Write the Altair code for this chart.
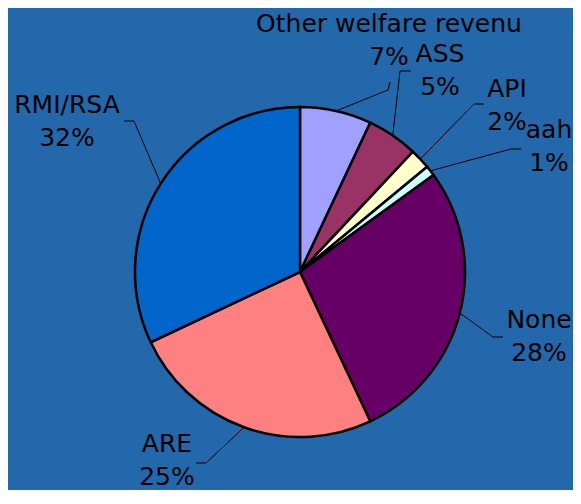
import math
import altair as alt
import pandas as pd

# ---- data ----
labels = ["Other welfare revenu", "ASS", "API", "aah", "None", "ARE", "RMI/RSA"]
values = [7, 5, 2, 1, 28, 25, 32]
colors = ["#A0A0FF", "#993366", "#FFFFCC", "#CCFFFF", "#660066", "#FF8080", "#0066CC"]

# ---- layout (chart pixel space) ----
W, H = 565, 482
CX, CY, R = 292, 264, 165
BG = "#2268AB"
FONT = "DejaVu Sans"
FS = 25
LINE_GAP = 33
# label block centre x and first baseline y
label_pos = {
    "Other welfare revenu": (381, 24),
    "ASS": (432, 54),
    "API": (499, 89),
    "aah": (541, 130),
    "None": (531, 320),
    "ARE": (159, 444),
    "RMI/RSA": (59, 105),
}
# leader elbow and end points
leader_pts = {
    "Other welfare revenu": [(380, 82), (382, 74)],
    "ASS": [(392, 63), (403, 63)],
    "API": [(466, 96), (476, 96)],
    "aah": [(503, 141), (513, 141)],
    "None": [(485, 329), (495, 329)],
    "ARE": [(198, 455), (188, 455)],
    "RMI/RSA": [(126, 113), (116, 113)],
}

total = sum(values)
pie_df = pd.DataFrame({"label": labels, "value": values, "order": range(len(labels))})

text_rows = []
line_rows = []
cum = 0.0
for lab, v in zip(labels, values):
    pct = f"{round(100 * v / total)}%"
    lx, ly = label_pos[lab]
    text_rows.append({"x": lx, "y": ly, "t": lab})
    text_rows.append({"x": lx, "y": ly + LINE_GAP, "t": pct})
    mid = (cum + v / 2) / total * 2 * math.pi
    cum += v
    sx = CX + R * math.sin(mid)
    sy = CY - R * math.cos(mid)
    pts = [(sx, sy)] + leader_pts[lab]
    for i, (px, py) in enumerate(pts):
        line_rows.append({"label": lab, "seq": i, "x": px, "y": py})

text_df = pd.DataFrame(text_rows)
line_df = pd.DataFrame(line_rows)

xs = alt.Scale(domain=[0, W], nice=False, zero=False)
ys = alt.Scale(domain=[0, H], nice=False, zero=False, reverse=True)

pie = alt.Chart(pie_df).mark_arc(
    outerRadius=R, stroke="black", strokeWidth=2.5
).encode(
    theta=alt.Theta("value:Q", stack=True),
    order=alt.Order("order:Q"),
    color=alt.Color("label:N", scale=alt.Scale(domain=labels, range=colors), legend=None),
    x=alt.value(CX),
    y=alt.value(CY),
)

leaders = alt.Chart(line_df).mark_line(color="black", strokeWidth=1).encode(
    x=alt.X("x:Q", scale=xs, axis=None),
    y=alt.Y("y:Q", scale=ys, axis=None),
    detail="label:N",
    order="seq:Q",
)

texts = alt.Chart(text_df).mark_text(
    font=FONT, fontSize=FS, color="black", align="center", baseline="alphabetic"
).encode(
    x=alt.X("x:Q", scale=xs, axis=None),
    y=alt.Y("y:Q", scale=ys, axis=None),
    text="t:N",
)

chart = alt.layer(pie, leaders, texts).properties(
    width=W, height=H, padding=0, background=BG,
    autosize=alt.AutoSizeParams(type="none"),
).configure_view(stroke=None).resolve_scale(color="independent")

chart.save("out.html", embed_options={"renderer": "svg", "actions": False})
